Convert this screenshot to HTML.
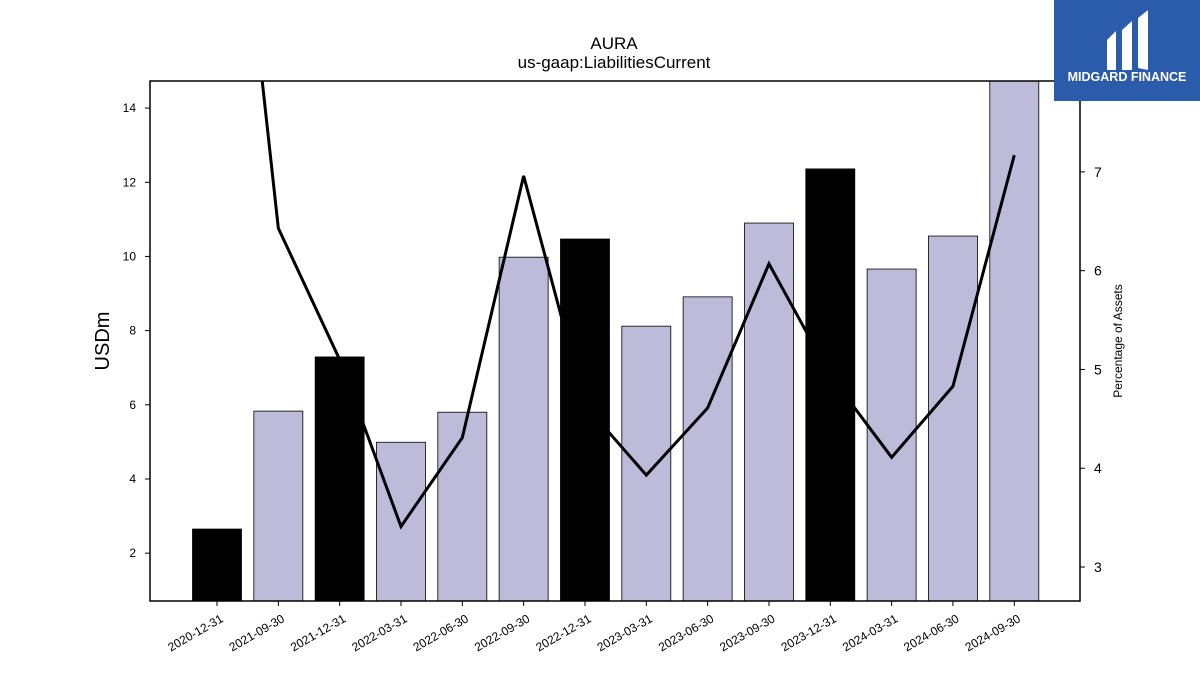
<!DOCTYPE html>
<html><head><meta charset="utf-8"><style>
body{margin:0;background:#fff;width:1200px;height:675px;overflow:hidden;font-family:"Liberation Sans",sans-serif}
</style></head><body>
<svg id="c" width="1200" height="675" xmlns="http://www.w3.org/2000/svg">
<text x="614" y="49" text-anchor="middle" font-size="17">AURA</text>
<text x="614" y="68" text-anchor="middle" font-size="17">us-gaap:LiabilitiesCurrent</text>
<text transform="translate(109,341) rotate(-90)" text-anchor="middle" font-size="20">USDm</text>
<text transform="translate(1122,341) rotate(-90)" text-anchor="middle" font-size="12">Percentage of Assets</text>
<g id="bars"></g><g id="line"></g><g id="axes"></g>
<rect x="150" y="81" width="930" height="520" fill="none" stroke="#000" stroke-width="1.5"/>
<g>
<rect x="1054" y="0" width="146" height="101" fill="#2b5bab"/>
<path d="M1107,40 L1116,31 L1116,70 L1107,70 Z" fill="#fff"/>
<path d="M1122,30 L1132,21 L1132,70 L1122,70 Z" fill="#fff"/>
<path d="M1138,18 L1148,10 L1148,70 L1138,68 Z" fill="#fff"/>
<text x="1127" y="81" text-anchor="middle" font-size="12.5" font-weight="bold" fill="#fff">MIDGARD FINANCE</text>
</g>
</svg>
<script>
const categories=["2020-12-31","2021-09-30","2021-12-31","2022-03-31","2022-06-30","2022-09-30","2022-12-31","2023-03-31","2023-06-30","2023-09-30","2023-12-31","2024-03-31","2024-06-30","2024-09-30"];
const barValues=[2.65,5.83,7.29,4.99,5.80,9.98,10.47,8.12,8.91,10.90,12.36,9.66,10.55,14.8];
const pctValues=[12.1,6.43,5.10,3.41,4.31,6.96,4.64,3.93,4.61,6.07,4.94,4.11,4.83,7.17];
const leftTicks=[2,4,6,8,10,12,14];
const rightTicks=[3,4,5,6,7];
const L=150,R=1080,T=81,B=601;
const yMin=0.71,yMax=14.73,y2Min=2.656,y2Max=7.92;
const NS="http://www.w3.org/2000/svg";
const step=(R-L)/categories.length*0.9866;
const xs=i=>217+i*61.33;
const y=v=>B-(v-yMin)/(yMax-yMin)*(B-T);
const y2=v=>B-(v-y2Min)/(y2Max-y2Min)*(B-T);
function mk(t,a,p){const e=document.createElementNS(NS,t);for(const k in a)e.setAttribute(k,a[k]);p.appendChild(e);return e;}
const bars=document.getElementById('bars'),line=document.getElementById('line'),axes=document.getElementById('axes');
categories.forEach((c,i)=>{
  const top=Math.max(T,y(barValues[i]));
  const r=mk('rect',{x:xs(i)-24.5,y:top,width:49,height:B-top,fill:c.endsWith('12-31')?'#000':'#bebbda',stroke:'#000','stroke-width':0.8},bars);
  
  
  const tk=mk('line',{x1:xs(i),x2:xs(i),y1:B,y2:B+5,stroke:'#000'},axes);
  
  
  const t=mk('text',{'font-size':12,'text-anchor':'end',transform:`translate(${xs(i)+7},${B+20}) rotate(-30)`},axes);
  t.textContent=c;
  
  
});
const clip=mk('clipPath',{id:'pc'},document.getElementById('c'));
mk('rect',{x:L,y:T,width:R-L,height:B-T},clip);
const pl=mk('polyline',{points:pctValues.map((v,i)=>xs(i)+','+y2(v)).join(' '),fill:'none',stroke:'#000','stroke-width':3,'clip-path':'url(#pc)'},line);


leftTicks.forEach(v=>{
  mk('line',{x1:L-5,x2:L,y1:y(v),y2:y(v),stroke:'#000'},axes);
  const t=mk('text',{x:L-14,y:y(v)+4,'font-size':12,'text-anchor':'end'},axes);
  t.textContent=v;
  
  
});
rightTicks.forEach(v=>{
  mk('line',{x1:R,x2:R+5,y1:y2(v),y2:y2(v),stroke:'#000'},axes);
  const t=mk('text',{x:R+14,y:y2(v)+5,'font-size':14},axes);
  t.textContent=v;
  
  
});
</script>
</body></html>
